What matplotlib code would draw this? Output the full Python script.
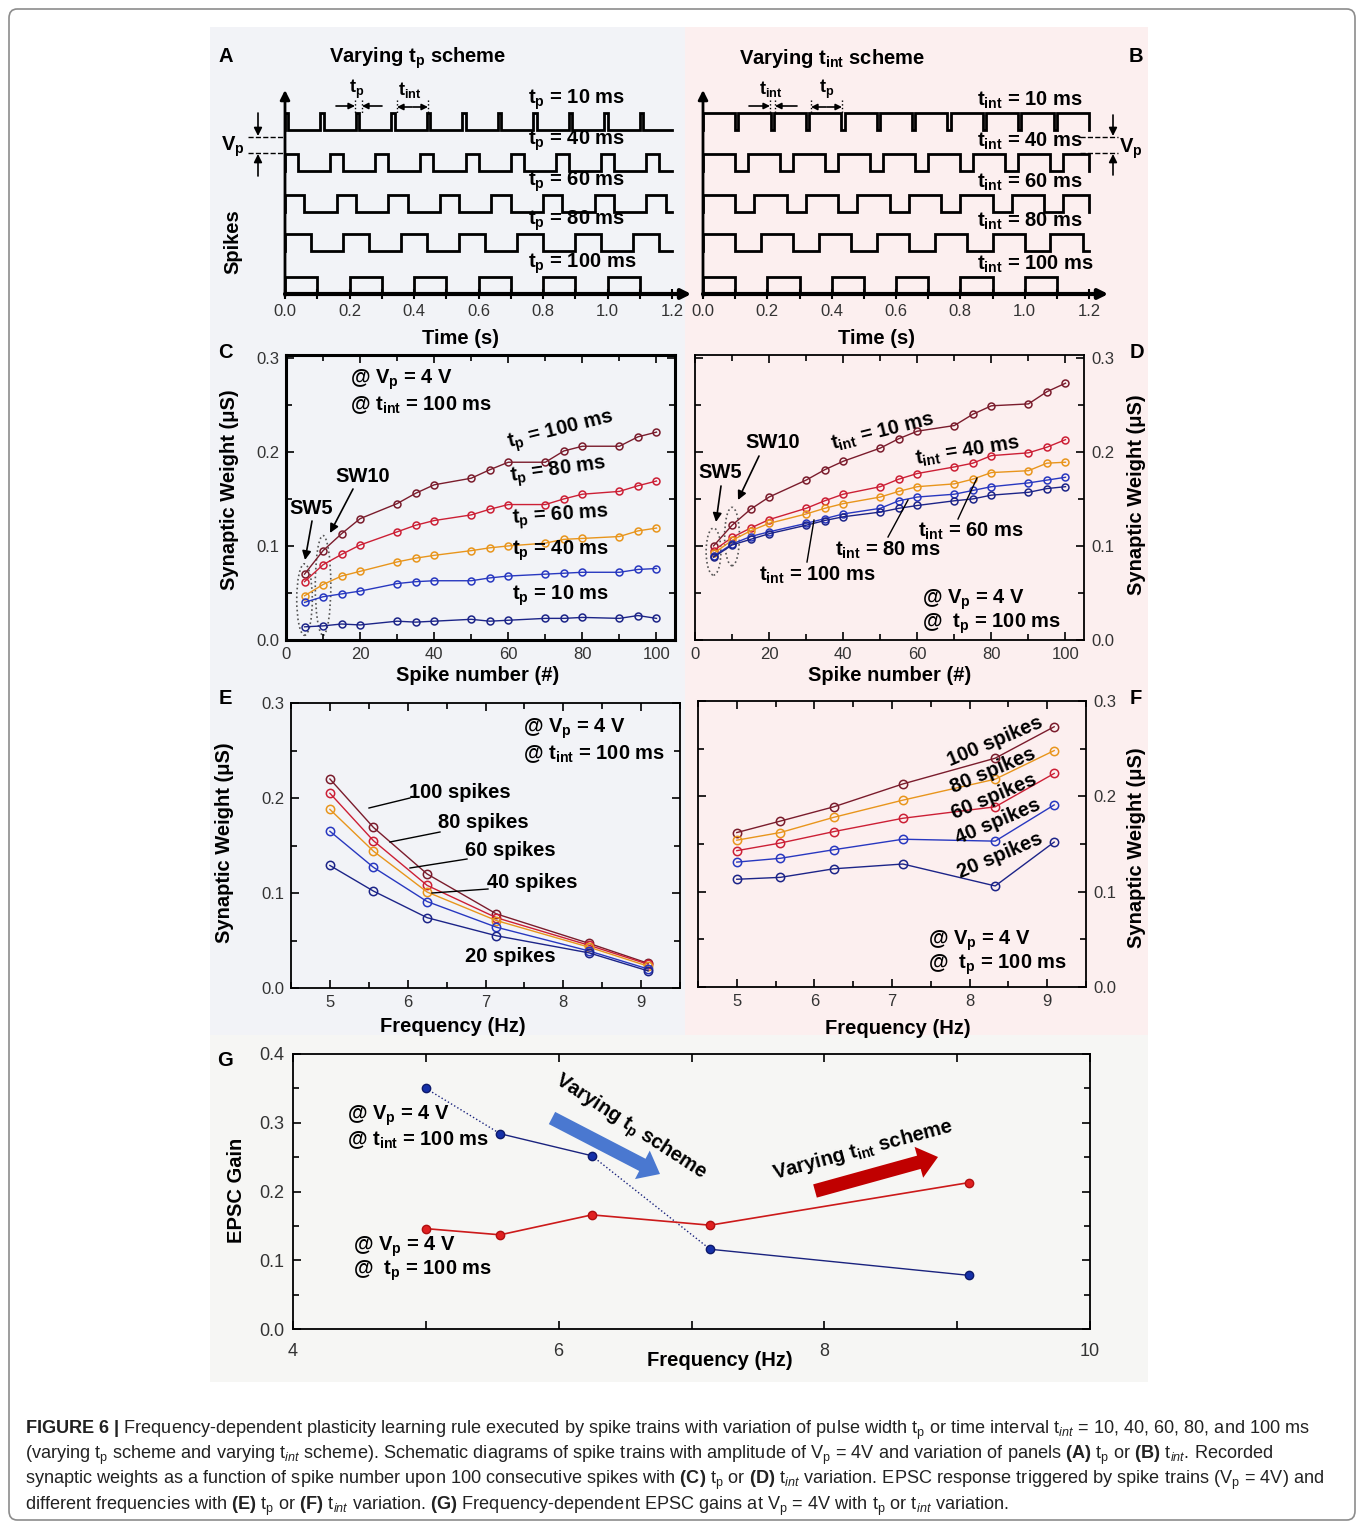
import numpy as np
import matplotlib.pyplot as plt
from matplotlib.patches import Ellipse, FancyBboxPatch, Rectangle, FancyArrowPatch
from matplotlib.lines import Line2D
from matplotlib.ticker import MultipleLocator

plt.rcParams['font.family'] = ['Liberation Sans', 'DejaVu Sans']
plt.rcParams['mathtext.fontset'] = 'custom'
plt.rcParams['mathtext.rm'] = 'Liberation Sans'
plt.rcParams['mathtext.bf'] = 'Liberation Sans:bold'
plt.rcParams['mathtext.it'] = 'Liberation Sans:italic'

# ---- datos ----
# A / B: trenes de pulsos (ms)
pulse_widths = [10, 40, 60, 80, 100]   # t_int = 100 ms
intervals = [10, 40, 60, 80, 100]      # t_p = 100 ms

# C / D: peso sinaptico vs numero de spike
spike_num = [5, 10, 15, 20, 30, 35, 40, 50, 55, 60, 70, 75, 80, 90, 95, 100]
sw_tp100 = [0.070, 0.095, 0.113, 0.129, 0.145, 0.156, 0.165, 0.172, 0.181, 0.189, 0.189, 0.201, 0.206, 0.206, 0.216, 0.221]
sw_tp80 = [0.062, 0.080, 0.091, 0.101, 0.115, 0.122, 0.127, 0.133, 0.139, 0.144, 0.144, 0.150, 0.155, 0.158, 0.164, 0.169]
sw_tp60 = [0.047, 0.059, 0.068, 0.073, 0.083, 0.087, 0.090, 0.095, 0.098, 0.100, 0.103, 0.107, 0.108, 0.110, 0.116, 0.119]
sw_tp40 = [0.040, 0.046, 0.049, 0.052, 0.060, 0.062, 0.063, 0.063, 0.066, 0.068, 0.070, 0.071, 0.072, 0.072, 0.075, 0.076]
sw_tp10 = [0.014, 0.015, 0.017, 0.016, 0.020, 0.019, 0.020, 0.022, 0.020, 0.021, 0.023, 0.023, 0.024, 0.023, 0.026, 0.023]

sw_ti10 = [0.100, 0.122, 0.139, 0.152, 0.170, 0.181, 0.190, 0.204, 0.214, 0.222, 0.228, 0.240, 0.249, 0.251, 0.264, 0.273]
sw_ti40 = [0.095, 0.109, 0.119, 0.128, 0.140, 0.148, 0.155, 0.163, 0.171, 0.177, 0.184, 0.188, 0.196, 0.199, 0.205, 0.213]
sw_ti60 = [0.092, 0.106, 0.116, 0.124, 0.134, 0.140, 0.145, 0.152, 0.158, 0.163, 0.166, 0.171, 0.178, 0.180, 0.188, 0.189]
sw_ti80 = [0.089, 0.102, 0.110, 0.115, 0.124, 0.129, 0.134, 0.140, 0.148, 0.152, 0.155, 0.159, 0.163, 0.167, 0.170, 0.173]
sw_ti100 = [0.088, 0.101, 0.107, 0.113, 0.122, 0.127, 0.131, 0.136, 0.140, 0.143, 0.148, 0.150, 0.154, 0.157, 0.161, 0.163]

# E / F: peso sinaptico vs frecuencia
freq = [5.0, 5.56, 6.25, 7.14, 8.33, 9.09]
e_100 = [0.220, 0.169, 0.120, 0.078, 0.047, 0.026]
e_80 = [0.205, 0.155, 0.108, 0.074, 0.045, 0.025]
e_60 = [0.188, 0.144, 0.101, 0.071, 0.043, 0.023]
e_40 = [0.165, 0.127, 0.091, 0.064, 0.039, 0.020]
e_20 = [0.129, 0.102, 0.074, 0.055, 0.037, 0.018]

f_100 = [0.162, 0.174, 0.189, 0.213, 0.240, 0.273]
f_80 = [0.154, 0.162, 0.178, 0.196, 0.218, 0.248]
f_60 = [0.143, 0.151, 0.163, 0.177, 0.189, 0.224]
f_40 = [0.131, 0.135, 0.144, 0.155, 0.153, 0.191]
f_20 = [0.113, 0.115, 0.124, 0.129, 0.106, 0.152]

# G: ganancia EPSC
gain_freq = [5.0, 5.56, 6.25, 7.14, 9.09]
gain_tp = [0.350, 0.284, 0.252, 0.116, 0.078]
gain_tint = [0.146, 0.137, 0.166, 0.151, 0.213]

MAROON, RED, ORANGE, BLUE, NAVY = '#7a1c2c', '#cc1f35', '#e8951c', '#2838c0', '#1c2488'

W, H = 1360, 1525
fig = plt.figure(figsize=(W / 100, H / 100), dpi=100)


def fp(x, y):
    return (x / W, 1 - y / H)


def add_ax(l, t, r, b):
    return fig.add_axes([l / W, 1 - b / H, (r - l) / W, (b - t) / H])


def ftext(x, y, s, size=14.5, weight='bold', **kw):
    kw.setdefault('ha', 'center')
    kw.setdefault('va', 'center')
    fig.text(x / W, 1 - y / H, s, fontsize=size, fontweight=weight, **kw)


def farrow(x0, y0, x1, y1, style='-|>', lw=1.2, color='k', ms=12, ls='-'):
    fig.add_artist(FancyArrowPatch(fp(x0, y0), fp(x1, y1), transform=fig.transFigure,
                                   arrowstyle=style, lw=lw, color=color,
                                   mutation_scale=ms, linestyle=ls, shrinkA=0, shrinkB=0))


def fline(x0, y0, x1, y1, lw=1.0, ls='-', color='k'):
    fig.add_artist(Line2D([x0 / W, x1 / W], [1 - y0 / H, 1 - y1 / H],
                          transform=fig.transFigure, lw=lw, ls=ls, color=color))


# fondos (detras de los ejes)
fig.add_artist(FancyBboxPatch(fp(9, 1520), (1346) / W, (1511) / H, transform=fig.transFigure, zorder=-10,
                              boxstyle='round,pad=0,rounding_size=0.006', fc='white', ec='#8c8c8c', lw=1.2))
fig.add_artist(Rectangle(fp(210, 1035), 475 / W, 1008 / H, transform=fig.transFigure,
                         fc='#f2f3f7', ec='none', zorder=-9))
fig.add_artist(Rectangle(fp(685, 1035), 463 / W, 1008 / H, transform=fig.transFigure,
                         fc='#fcefef', ec='none', zorder=-9))
fig.add_artist(Rectangle(fp(210, 1382), 938 / W, 347 / H, transform=fig.transFigure,
                         fc='#f6f6f4', ec='none', zorder=-9))


# ---------- A y B: esquemas ----------
def pulse_train(tp, tint, t_end=1.2):
    tp_s, period = tp / 1000, (tp + tint) / 1000
    ts, ys = [0.0], [0.0]
    for k in range(int(np.ceil(t_end / period - 1e-9))):
        on = k * period
        off = min(on + tp_s, t_end)
        ts += [on, on, off, off]
        ys += [0, 1, 1, 0]
    ts.append(t_end)
    ys.append(0)
    return np.array(ts), np.array(ys)


row_low = [130, 171, 212, 251, 294]
amp = 17


def scheme_axes(left, right, widths, gaps, label_fmt, vals, label_x):
    ax = add_ax(left, 95, right, 294)
    ax.set_xlim(0, 1.2)
    ax.set_ylim(294, 95)
    ax.patch.set_alpha(0)
    for s in ax.spines.values():
        s.set_visible(False)
    for tp, ti, low in zip(widths, gaps, row_low):
        ts, ys = pulse_train(tp, ti)
        ax.plot(ts, low - amp * ys, color='k', lw=2, clip_on=False, solid_joinstyle='miter')
    ax.annotate('', xy=(1.26, 294), xytext=(0, 294), annotation_clip=False,
                arrowprops=dict(arrowstyle='-|>', lw=3, color='k', mutation_scale=14, shrinkA=0, shrinkB=0))
    ax.annotate('', xy=(0, 90), xytext=(0, 296), annotation_clip=False,
                arrowprops=dict(arrowstyle='-|>', lw=2, color='k', mutation_scale=14, shrinkA=0, shrinkB=0))
    ax.set_xticks(np.arange(0, 1.21, 0.2))
    ax.set_xticklabels(['%.1f' % v for v in np.arange(0, 1.21, 0.2)])
    ax.xaxis.set_minor_locator(MultipleLocator(0.1))
    ax.tick_params(axis='x', which='both', direction='inout', length=7, width=1.5, labelsize=12,
                   labelcolor='#333', pad=4)
    ax.set_yticks([])
    for v, low in zip(vals, row_low):
        ftext(label_x, low - 30, label_fmt % v, ha='left')
    return ax


scheme_axes(285, 672, pulse_widths, [100] * 5, 't$_\\mathbf{p}$ = %d ms', pulse_widths, 528)
scheme_axes(703, 1089, [100] * 5, intervals, 't$_\\mathbf{int}$ = %d ms', intervals, 977)

ftext(418, 58, 'Varying t$_\\mathbf{p}$ scheme')
ftext(832, 58, 'Varying t$_\\mathbf{int}$ scheme')
ftext(226, 57, 'A')
ftext(1136, 57, 'B')
ftext(233, 242, 'Spikes', rotation=90)
ftext(460, 339, 'Time (s)')
ftext(876, 339, 'Time (s)')

# Vp en A
fline(248, 137, 285, 137, ls='--')
fline(248, 153, 285, 153, ls='--')
farrow(258, 113, 258, 136)
farrow(258, 176, 258, 154)
ftext(233, 147, 'V$_\\mathbf{p}$')
# Vp en B
fline(1080, 137, 1118, 137, ls='--')
fline(1080, 153, 1118, 153, ls='--')
farrow(1113, 115, 1113, 136)
farrow(1113, 175, 1113, 154)
ftext(1131, 149, 'V$_\\mathbf{p}$')

# cotas t_p / t_int en A
ftext(357, 89, 't$_\\mathbf{p}$', size=13)
farrow(336, 106, 355, 106, ms=9)
farrow(382, 106, 362, 106, ms=9)
fline(355, 100, 355, 113, ls=':')
fline(362, 100, 362, 113, ls=':')
ftext(410, 90, 't$_\\mathbf{int}$', size=13)
farrow(412, 107, 397, 107, ms=9)
farrow(413, 107, 428, 107, ms=9)
fline(397, 100, 397, 113, ls=':')
fline(428, 100, 428, 113, ls=':')
# cotas en B
ftext(771, 89, 't$_\\mathbf{int}$', size=13)
farrow(749, 106, 770, 106, ms=9)
farrow(797, 106, 775, 106, ms=9)
fline(770, 100, 770, 113, ls=':')
fline(775, 100, 775, 113, ls=':')
ftext(827, 89, 't$_\\mathbf{p}$', size=13)
farrow(826, 107, 811, 107, ms=9)
farrow(827, 107, 842, 107, ms=9)
fline(811, 100, 811, 113, ls=':')
fline(842, 100, 842, 113, ls=':')


# ---------- estilo de ejes ----------
def style(ax, lw=1.3, xmaj=20, xmin=10, ymaj=0.1, ymin=0.05, right_labels=False, pad=5):
    ax.patch.set_alpha(0)
    for s in ax.spines.values():
        s.set_linewidth(lw)
    ax.xaxis.set_major_locator(MultipleLocator(xmaj))
    ax.xaxis.set_minor_locator(MultipleLocator(xmin))
    ax.yaxis.set_major_locator(MultipleLocator(ymaj))
    ax.yaxis.set_minor_locator(MultipleLocator(ymin))
    ax.tick_params(which='both', direction='in', top=True, right=True, labelsize=12,
                   labelcolor='#333', pad=pad, width=1.2)
    ax.tick_params(which='major', length=6)
    ax.tick_params(which='minor', length=4)
    if right_labels:
        ax.tick_params(axis='y', labelleft=False, labelright=True)
    ax.yaxis.set_major_formatter(plt.FuncFormatter(lambda v, p: '%.1f' % v))


def series(ax, x, ys, colors, ms=5):
    for y, c in zip(ys, colors):
        ax.plot(x, y, '-o', color=c, lw=1.0, ms=ms, mfc='none', mew=1.1)


# ---------- C ----------
ax_c = add_ax(286, 355, 675, 640)
series(ax_c, spike_num, [sw_tp100, sw_tp80, sw_tp60, sw_tp40, sw_tp10], [MAROON, RED, ORANGE, BLUE, NAVY])
ax_c.set_xlim(0, 105)
ax_c.set_ylim(0, 0.303)
style(ax_c, lw=2.2)
ax_c.add_patch(Ellipse((5, 0.043), 4.2, 0.076, fill=False, ls=':', ec='#555', lw=1.2))
ax_c.add_patch(Ellipse((10, 0.058), 4.2, 0.106, fill=False, ls=':', ec='#555', lw=1.2))
ftext(225, 353, 'C')
ftext(229, 490, 'Synaptic Weight (μS)', rotation=90)
ftext(478, 675, 'Spike number (#)')
ftext(350, 380, '@ V$_\\mathbf{p}$ = 4 V', ha='left')
ftext(350, 405, '@ t$_\\mathbf{int}$ = 100 ms', ha='left')
ftext(561, 431, 't$_\\mathbf{p}$ = 100 ms', rotation=14)
ftext(558, 471, 't$_\\mathbf{p}$ = 80 ms', rotation=8)
ftext(561, 516, 't$_\\mathbf{p}$ = 60 ms', rotation=4)
ftext(561, 551, 't$_\\mathbf{p}$ = 40 ms')
ftext(561, 596, 't$_\\mathbf{p}$ = 10 ms')
ftext(311, 508, 'SW5')
farrow(312, 521, 305, 560, lw=1.2, ms=13)
ftext(363, 476, 'SW10')
farrow(353, 489, 330, 533, lw=1.2, ms=13)

# ---------- D ----------
ax_d = add_ax(695, 355, 1084, 640)
series(ax_d, spike_num, [sw_ti10, sw_ti40, sw_ti60, sw_ti80, sw_ti100], [MAROON, RED, ORANGE, BLUE, NAVY])
ax_d.set_xlim(0, 105)
ax_d.set_ylim(0, 0.303)
style(ax_d, lw=1.3, right_labels=True)
ax_d.add_patch(Ellipse((5, 0.094), 4.0, 0.05, fill=False, ls=':', ec='#555', lw=1.2))
ax_d.add_patch(Ellipse((10, 0.110), 4.0, 0.062, fill=False, ls=':', ec='#555', lw=1.2))
ftext(1137, 353, 'D')
ftext(1137, 495, 'Synaptic Weight (μS)', rotation=90)
ftext(890, 675, 'Spike number (#)')
ftext(720, 472, 'SW5')
farrow(721, 486, 716, 522, lw=1.2, ms=13)
ftext(773, 442, 'SW10')
farrow(759, 456, 738, 500, lw=1.2, ms=13)
ftext(883, 432, 't$_\\mathbf{int}$ = 10 ms', rotation=14)
ftext(968, 451, 't$_\\mathbf{int}$ = 40 ms', rotation=9)
ftext(971, 531, 't$_\\mathbf{int}$ = 60 ms')
fline(958, 519, 977, 478)
ftext(888, 550, 't$_\\mathbf{int}$ = 80 ms')
fline(888, 537, 908, 500)
ftext(818, 575, 't$_\\mathbf{int}$ = 100 ms')
fline(807, 562, 814, 520)
ftext(922, 600, '@ V$_\\mathbf{p}$ = 4 V', ha='left')
ftext(922, 624, '@  t$_\\mathbf{p}$ = 100 ms', ha='left')

# ---------- E ----------
ax_e = add_ax(291, 703, 680, 988)
series(ax_e, freq, [e_100, e_80, e_60, e_40, e_20], [MAROON, RED, ORANGE, BLUE, NAVY], ms=6)
ax_e.set_xlim(4.5, 9.5)
ax_e.set_ylim(0, 0.3)
style(ax_e, xmaj=1, xmin=0.5)
ax_e.xaxis.set_major_formatter(plt.FuncFormatter(lambda v, p: '%d' % v))
ftext(225, 698, 'E')
ftext(225, 843, 'Synaptic Weight (μS)', rotation=90)
ftext(453, 1026, 'Frequency (Hz)')
ftext(523, 729, '@ V$_\\mathbf{p}$ = 4 V', ha='left')
ftext(523, 754, '@ t$_\\mathbf{int}$ = 100 ms', ha='left')
ftext(460, 793, '100 spikes')
fline(410, 798, 369, 808)
ftext(483, 823, '80 spikes')
fline(440, 832, 390, 842)
ftext(510, 851, '60 spikes')
fline(467, 859, 410, 868)
ftext(532, 882, '40 spikes')
fline(488, 889, 432, 893)
ftext(510, 957, '20 spikes')

# ---------- F ----------
ax_f = add_ax(698, 701, 1086, 987)
series(ax_f, freq, [f_100, f_80, f_60, f_40, f_20], [MAROON, ORANGE, RED, BLUE, NAVY], ms=6)
ax_f.set_xlim(4.5, 9.5)
ax_f.set_ylim(0, 0.3)
style(ax_f, xmaj=1, xmin=0.5, right_labels=True)
ax_f.xaxis.set_major_formatter(plt.FuncFormatter(lambda v, p: '%d' % v))
ftext(1136, 698, 'F')
ftext(1137, 848, 'Synaptic Weight (μS)', rotation=90)
ftext(898, 1029, 'Frequency (Hz)')
ftext(995, 741, '100 spikes', rotation=23)
ftext(993, 771, '80 spikes', rotation=23)
ftext(994, 797, '60 spikes', rotation=23)
ftext(998, 822, '40 spikes', rotation=23)
ftext(1000, 856, '20 spikes', rotation=23)
ftext(928, 941, '@ V$_\\mathbf{p}$ = 4 V', ha='left')
ftext(928, 965, '@  t$_\\mathbf{p}$ = 100 ms', ha='left')

# ---------- G ----------
ax_g = add_ax(293, 1054, 1090, 1329)
# tramos alternos punteados / continuos como en el original
for i in range(len(gain_freq) - 1):
    ax_g.plot(gain_freq[i:i + 2], gain_tp[i:i + 2], color='#1a237e', lw=1.0,
              ls=':' if i % 2 == 0 else '-')
ax_g.plot(gain_freq, gain_tp, 'o', ms=6, mfc='#1530a8', mec='#0d1a6a')
ax_g.plot(gain_freq, gain_tint, '-o', color='#cc1a1a', lw=1.2, ms=6, mfc='#e02020', mec='#b01010')
ax_g.set_xlim(4, 10)
ax_g.set_ylim(0, 0.4)
style(ax_g, xmaj=1, xmin=1, pad=10)
ax_g.xaxis.set_major_formatter(plt.FuncFormatter(lambda v, p: '%d' % v if int(round(v)) % 2 == 0 else ''))
ax_g.tick_params(axis='y', pad=6)
ax_g.tick_params(which='both', labelsize=13)
ftext(225, 1061, 'G')
ftext(236, 1190, 'EPSC Gain', rotation=90)
ftext(720, 1361, 'Frequency (Hz)')
ftext(347, 1116, '@ V$_\\mathbf{p}$ = 4 V', ha='left')
ftext(347, 1140, '@ t$_\\mathbf{int}$ = 100 ms', ha='left')
ftext(353, 1247, '@ V$_\\mathbf{p}$ = 4 V', ha='left')
ftext(353, 1271, '@  t$_\\mathbf{p}$ = 100 ms', ha='left')
farrow(552, 1118, 660, 1174, style='simple,head_length=1.3,head_width=2.1,tail_width=0.9',
       lw=0, color='#4a78d0', ms=11)
farrow(815, 1191, 938, 1157, style='simple,head_length=1.3,head_width=2.1,tail_width=0.9',
       lw=0, color='#c00000', ms=11)
ftext(630, 1128, 'Varying t$_\\mathbf{p}$ scheme', rotation=-33)
ftext(863, 1150, 'Varying t$_\\mathbf{int}$ scheme', rotation=15)

# ---------- pie de figura ----------
caption = [
    '$\\mathbf{FIGURE\\ 6\\ |}$ Frequency-dependent plasticity learning rule executed by spike trains with variation of pulse width t$_\\mathrm{p}$ or time interval t$_{\\mathit{int}}$ = 10, 40, 60, 80, and 100 ms',
    '(varying t$_\\mathrm{p}$ scheme and varying t$_{\\mathit{int}}$ scheme). Schematic diagrams of spike trains with amplitude of V$_\\mathrm{p}$ = 4V and variation of panels $\\mathbf{(A)}$ t$_\\mathrm{p}$ or $\\mathbf{(B)}$ t$_{\\mathit{int}}$. Recorded',
    'synaptic weights as a function of spike number upon 100 consecutive spikes with $\\mathbf{(C)}$ t$_\\mathrm{p}$ or $\\mathbf{(D)}$ t$_{\\mathit{int}}$ variation. EPSC response triggered by spike trains (V$_\\mathrm{p}$ = 4V) and',
    'different frequencies with $\\mathbf{(E)}$ t$_\\mathrm{p}$ or $\\mathbf{(F)}$ t$_{\\mathit{int}}$ variation. $\\mathbf{(G)}$ Frequency-dependent EPSC gains at V$_\\mathrm{p}$ = 4V with t$_\\mathrm{p}$ or t$_{\\mathit{int}}$ variation.',
]
for i, line in enumerate(caption):
    ftext(25, 1430 + i * 25.3, line, size=13.05, weight='normal', ha='left', color='#222')

fig.savefig('out.png', dpi=100)
